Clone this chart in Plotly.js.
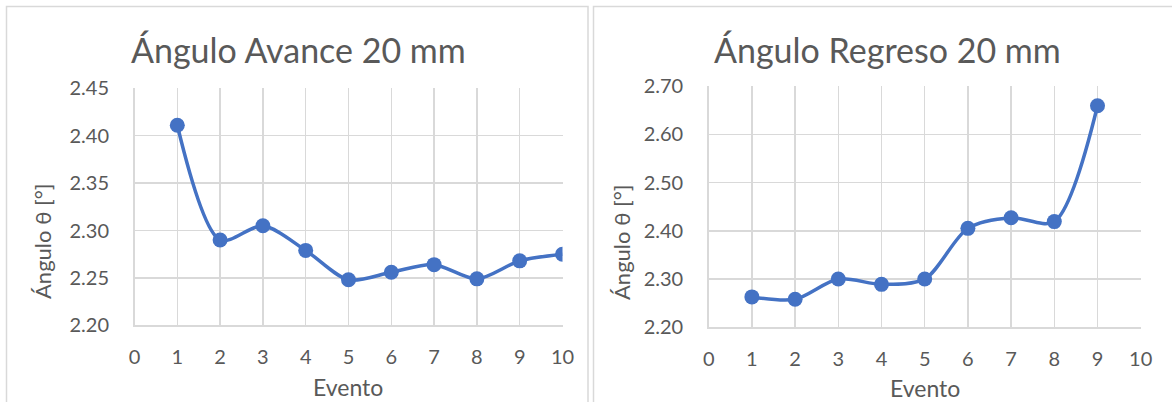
<!DOCTYPE html>
<html>
<head>
<meta charset="utf-8">
<script src="https://cdn.plot.ly/plotly-3.0.1.min.js"></script>
<style>html,body{margin:0;padding:0;background:#fff;}#chart{width:1172px;height:402px;}</style>
</head>
<body>
<div id="chart"></div>
<script>
// Data
const eventosAvance = [1, 2, 3, 4, 5, 6, 7, 8, 9, 10];
const anguloAvance = [2.411, 2.290, 2.305, 2.279, 2.248, 2.256, 2.264, 2.249, 2.268, 2.275];
const eventosRegreso = [1, 2, 3, 4, 5, 6, 7, 8, 9];
const anguloRegreso = [2.263, 2.258, 2.300, 2.289, 2.300, 2.405, 2.427, 2.419, 2.659];
const xTicks = [0, 1, 2, 3, 4, 5, 6, 7, 8, 9, 10];
const yTicksAvance = [2.20, 2.25, 2.30, 2.35, 2.40, 2.45];
const yTicksRegreso = [2.20, 2.30, 2.40, 2.50, 2.60, 2.70];
const tituloAvance = 'Ángulo Avance 20 mm';
const tituloRegreso = 'Ángulo Regreso 20 mm';
const tituloY = 'Ángulo θ [°]';
const tituloX = 'Evento';

const blue = '#4472C4';
const grid = '#d9d9d9';
const txt = '#595959';
const FONT = 'Lato, "Open Sans", sans-serif';

function trace(x, y, xa, ya) {
  return {
    x: x, y: y, xaxis: xa, yaxis: ya, type: 'scatter', mode: 'lines+markers',
    line: {color: blue, width: 3.5, shape: 'spline', smoothing: 0.85},
    marker: {color: blue, size: 15},
    hoverinfo: 'skip', showlegend: false
  };
}

function xaxis(domain, anchor) {
  return {
    domain: domain, anchor: anchor, range: [0, 10], tickvals: xTicks,
    ticktext: xTicks.map(String), showgrid: true, gridcolor: grid, gridwidth: 1.5,
    showline: true, linecolor: grid, linewidth: 1.5, zeroline: false,
    ticks: 'outside', ticklen: 13, tickcolor: 'rgba(0,0,0,0)',
    tickfont: {family: FONT, size: 20, color: txt}, fixedrange: true
  };
}
function yaxis(domain, anchor, range, tv) {
  return {
    domain: domain, anchor: anchor, range: range, tickvals: tv,
    ticktext: tv.map(v => v.toFixed(2)), showgrid: true, gridcolor: grid, gridwidth: 1.5,
    showline: true, linecolor: grid, linewidth: 1.5, zeroline: false,
    ticks: 'outside', ticklen: 20, tickcolor: 'rgba(0,0,0,0)',
    tickfont: {family: FONT, size: 20, color: txt}, fixedrange: true
  };
}

const W = 1172, H = 402;
const px = v => v / W, py = v => 1 - v / H;

const data = [
  trace(eventosAvance, anguloAvance, 'x', 'y'),
  trace(eventosRegreso, anguloRegreso, 'x2', 'y2')
];

const layout = {
  width: W, height: H, margin: {l: 0, r: 0, t: 0, b: 0},
  paper_bgcolor: '#fff', plot_bgcolor: '#fff',
  font: {family: FONT, color: txt},
  xaxis: xaxis([px(134.5), px(562.5)], 'y'),
  yaxis: yaxis([py(325.3), py(88.3)], 'x', [2.20, 2.45], yTicksAvance),
  xaxis2: xaxis([px(708.7), px(1140.7)], 'y2'),
  yaxis2: yaxis([py(327.3), py(86)], 'x2', [2.20, 2.70], yTicksRegreso),
  shapes: [
    {type: 'rect', xref: 'paper', yref: 'paper', x0: px(6.5), x1: px(588), y0: py(420), y1: py(6.5), line: {color: grid, width: 1.5}},
    {type: 'rect', xref: 'paper', yref: 'paper', x0: px(593.5), x1: px(1190), y0: py(420), y1: py(6.5), line: {color: grid, width: 1.5}}
  ],
  annotations: [
    {text: tituloAvance, xref: 'paper', yref: 'paper', x: px(298), y: py(50), xanchor: 'center', yanchor: 'middle', showarrow: false, font: {family: FONT, size: 34, color: txt}},
    {text: tituloRegreso, xref: 'paper', yref: 'paper', x: px(888), y: py(50), xanchor: 'center', yanchor: 'middle', showarrow: false, font: {family: FONT, size: 34, color: txt}},
    {text: tituloY, xref: 'paper', yref: 'paper', x: px(42), y: py(242), xanchor: 'center', yanchor: 'middle', textangle: -90, showarrow: false, font: {family: FONT, size: 22, color: txt}},
    {text: tituloY, xref: 'paper', yref: 'paper', x: px(621), y: py(242), xanchor: 'center', yanchor: 'middle', textangle: -90, showarrow: false, font: {family: FONT, size: 22, color: txt}},
    {text: tituloX, xref: 'paper', yref: 'paper', x: px(348), y: py(387), xanchor: 'center', yanchor: 'middle', showarrow: false, font: {family: FONT, size: 23, color: txt}},
    {text: tituloX, xref: 'paper', yref: 'paper', x: px(925), y: py(388), xanchor: 'center', yanchor: 'middle', showarrow: false, font: {family: FONT, size: 23, color: txt}}
  ]
};

Plotly.newPlot('chart', data, layout, {displayModeBar: false, staticPlot: true});
</script>
</body>
</html>
